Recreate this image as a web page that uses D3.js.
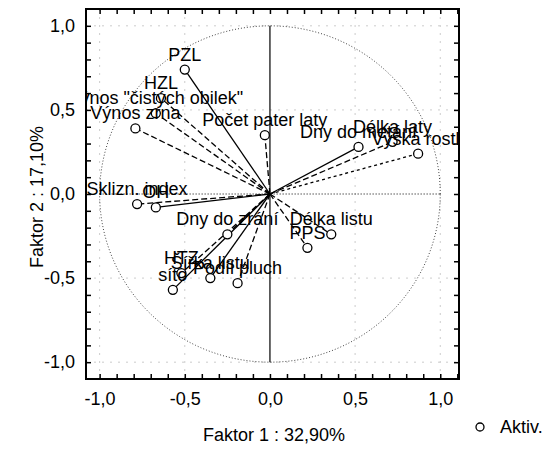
<!DOCTYPE html>
<html>
<head>
<meta charset="utf-8">
<script src="https://cdn.jsdelivr.net/npm/d3@7"></script>
<style>
  body { margin: 0; background: white; }
  text { font-family: "Liberation Sans", Arial, sans-serif; fill: black; }
</style>
</head>
<body>
<script>
// variable names and their loadings on factor 1 / factor 2
var variables = ["PZL", "HZL", "Výnos \"čistých obilek\"", "Výnos zrna", "Počet pater laty",
  "Dny do metání", "Délka laty", "Výška rostl.", "Sklizn. index", "OH",
  "Dny do zrání", "Délka listu", "PPS", "HTZ", "Šířka listu", "Podíl pluch", "síto"];
var factor1 = [-0.50, -0.64, -0.67, -0.79, -0.03, 0.52, 0.72, 0.87, -0.78, -0.67,
  -0.25, 0.36, 0.22, -0.52, -0.35, -0.19, -0.57];
var factor2 = [0.74, 0.57, 0.48, 0.39, 0.35, 0.28, 0.31, 0.24, -0.06, -0.08,
  -0.24, -0.24, -0.32, -0.47, -0.50, -0.53, -0.57];
var majorTicks = [-1.0, -0.5, 0.0, 0.5, 1.0];
var xTitle = "Faktor 1 : 32,90%";
var yTitle = "Faktor 2 : 17,10%";
var legendLabel = "Aktiv.";

// line pattern per vector (0 solid, 1 dashed, 2 dotted)
var vectorStyle = [0, 1, 1, 1, 1, 0, 1, 2, 1, 0, 1, 1, 1, 1, 0, 1, 0];
var dashes = [null, "6,3", "3,3"];

var width = 553, height = 449;
var plot = { left: 86, right: 459, top: 9, bottom: 379 };

var x = d3.scaleLinear().domain([-1.08, 1.11]).range([plot.left, plot.right]);
var y = d3.scaleLinear().domain([-1.1, 1.1]).range([plot.bottom, plot.top]);

var fmt = function(v) { return v.toFixed(1).replace(".", ","); };
var minor = d3.range(-11, 12).map(function(i) { return i / 10; });
var xMinor = minor.filter(function(v) { return v >= -1.08 && v <= 1.11; });
var yMinor = minor.filter(function(v) { return v > -1.1 && v < 1.1; });

var svg = d3.select("body").append("svg")
  .attr("width", width)
  .attr("height", height);

svg.append("clipPath").attr("id", "clip")
  .append("rect")
  .attr("x", plot.left).attr("y", plot.top)
  .attr("width", plot.right - plot.left)
  .attr("height", plot.bottom - plot.top);

// faint grid
var grid = svg.append("g");
majorTicks.forEach(function(v) {
  if (v === 0) return;
  grid.append("line")
    .attr("x1", x(v)).attr("x2", x(v)).attr("y1", plot.top).attr("y2", plot.bottom)
    .attr("stroke", "#ccc").attr("stroke-dasharray", "2,6");
  grid.append("line")
    .attr("y1", y(v)).attr("y2", y(v)).attr("x1", plot.left).attr("x2", plot.right)
    .attr("stroke", "#ccc").attr("stroke-dasharray", "2,6");
});

// unit circle
var circ = d3.range(0, 361, 2).map(function(a) {
  var r = a * Math.PI / 180;
  return [x(Math.cos(r)), y(Math.sin(r))];
});
svg.append("path")
  .attr("d", d3.line()(circ))
  .attr("fill", "none")
  .attr("stroke", "#444")
  .attr("stroke-width", 1)
  .attr("stroke-dasharray", "1,2");

// center cross
svg.append("line")
  .attr("x1", x(0)).attr("x2", x(0)).attr("y1", y(1)).attr("y2", y(-1))
  .attr("stroke", "black").attr("stroke-width", 1.2);
svg.append("line")
  .attr("x1", x(-1)).attr("x2", x(1)).attr("y1", y(0)).attr("y2", y(0))
  .attr("stroke", "black").attr("stroke-width", 1).attr("stroke-dasharray", "1,2");

// axes, ticks pointing inside
function strip(g) { g.select(".domain").remove(); g.selectAll(".tick line").attr("stroke-width", 1.5); }

svg.append("g")
  .attr("transform", "translate(0," + plot.bottom + ")")
  .call(d3.axisBottom(x).tickValues(xMinor).tickSize(-5).tickPadding(13)
    .tickFormat(function(d) { return majorTicks.indexOf(d) >= 0 ? fmt(d) : ""; }))
  .call(strip)
  .selectAll("text").style("font-size", "18px");

svg.append("g")
  .attr("transform", "translate(0," + plot.top + ")")
  .call(d3.axisTop(x).tickValues(xMinor).tickSize(-5).tickFormat(""))
  .call(strip);

svg.append("g")
  .attr("transform", "translate(" + plot.left + ",0)")
  .call(d3.axisLeft(y).tickValues(yMinor).tickSize(-5).tickPadding(11)
    .tickFormat(function(d) { return majorTicks.indexOf(d) >= 0 ? fmt(d) : ""; }))
  .call(strip)
  .selectAll("text").style("font-size", "18px");

svg.append("g")
  .attr("transform", "translate(" + plot.right + ",0)")
  .call(d3.axisRight(y).tickValues(yMinor).tickSize(-5).tickFormat(""))
  .call(strip);

svg.selectAll(".tick text").attr("fill", "black");

// vectors
var data = variables.map(function(name, i) {
  return { name: name, f1: factor1[i], f2: factor2[i], style: vectorStyle[i] };
});

var layer = svg.append("g").attr("clip-path", "url(#clip)");

layer.selectAll(".vec")
  .data(data)
  .enter().append("line")
  .attr("class", "vec")
  .attr("x1", x(0)).attr("y1", y(0))
  .attr("x2", function(d) { return x(d.f1); })
  .attr("y2", function(d) { return y(d.f2); })
  .attr("stroke", "black")
  .attr("stroke-width", 1.3)
  .attr("stroke-dasharray", function(d) { return dashes[d.style]; });

layer.selectAll(".pt")
  .data(data)
  .enter().append("circle")
  .attr("class", "pt")
  .attr("cx", function(d) { return x(d.f1); })
  .attr("cy", function(d) { return y(d.f2); })
  .attr("r", 4.5)
  .attr("fill", "white")
  .attr("stroke", "black")
  .attr("stroke-width", 1.3);

layer.selectAll(".lbl")
  .data(data)
  .enter().append("text")
  .attr("class", "lbl")
  .attr("x", function(d) { return x(d.f1); })
  .attr("y", function(d) { return y(d.f2) - 9; })
  .attr("text-anchor", "middle")
  .style("font-size", "18px")
  .text(function(d) { return d.name; });

// frame
svg.append("rect")
  .attr("x", plot.left).attr("y", plot.top)
  .attr("width", plot.right - plot.left)
  .attr("height", plot.bottom - plot.top)
  .attr("fill", "none")
  .attr("stroke", "black")
  .attr("stroke-width", 2);

// titles
svg.append("text")
  .attr("x", 274).attr("y", 441)
  .attr("text-anchor", "middle")
  .style("font-size", "18px")
  .text(xTitle);

svg.append("text")
  .attr("transform", "translate(43,197) rotate(-90)")
  .attr("text-anchor", "middle")
  .style("font-size", "18px")
  .text(yTitle);

// legend
svg.append("circle")
  .attr("cx", 480).attr("cy", 427).attr("r", 4)
  .attr("fill", "white").attr("stroke", "black").attr("stroke-width", 1.3);
svg.append("text")
  .attr("x", 500).attr("y", 433)
  .style("font-size", "18px")
  .text(legendLabel);
</script>
</body>
</html>
